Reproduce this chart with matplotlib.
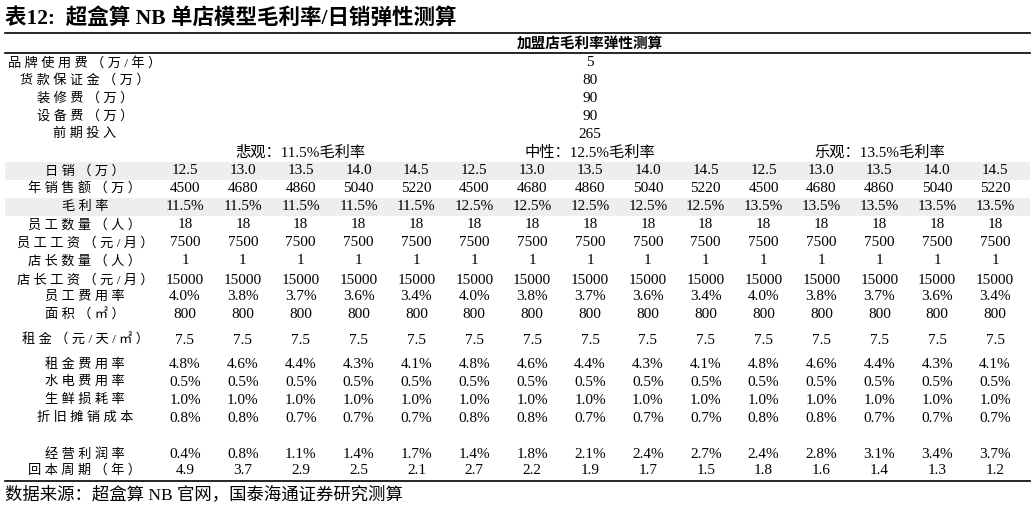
import matplotlib
matplotlib.use("Agg")
import matplotlib.pyplot as plt

FAM = ['Liberation Serif', 'Noto Sans CJK SC']

title = "表12:  超盒算 NB 单店模型毛利率/日销弹性测算"
header = "加盟店毛利率弹性测算"
source = "数据来源：超盒算 NB 官网，国泰海通证券研究测算"

upfront_labels = ["品牌使用费（万/年）", "货款保证金（万）", "装修费（万）", "设备费（万）", "前期投入"]
upfront_values = ["5", "80", "90", "90", "265"]

scenarios = ["悲观：11.5%毛利率", "中性：12.5%毛利率", "乐观：13.5%毛利率"]

row_labels = ["日销（万）", "年销售额（万）", "毛利率", "员工数量（人）", "员工工资（元/月）",
              "店长数量（人）", "店长工资（元/月）", "员工费用率", "面积（㎡）", "租金（元/天/㎡）",
              "租金费用率", "水电费用率", "生鲜损耗率", "折旧摊销成本", "经营利润率", "回本周期（年）"]

daily_sales = ["12.5", "13.0", "13.5", "14.0", "14.5"] * 3
annual_sales = ["4500", "4680", "4860", "5040", "5220"] * 3
gross_margin = ["11.5%"] * 5 + ["12.5%"] * 5 + ["13.5%"] * 5
staff_count = ["18"] * 15
staff_wage = ["7500"] * 15
manager_count = ["1"] * 15
manager_wage = ["15000"] * 15
staff_cost_rate = ["4.0%", "3.8%", "3.7%", "3.6%", "3.4%"] * 3
area = ["800"] * 15
rent = ["7.5"] * 15
rent_rate = ["4.8%", "4.6%", "4.4%", "4.3%", "4.1%"] * 3
utility_rate = ["0.5%"] * 15
fresh_loss = ["1.0%"] * 15
depreciation = ["0.8%", "0.8%", "0.7%", "0.7%", "0.7%"] * 3
op_margin = ["0.4%", "0.8%", "1.1%", "1.4%", "1.7%",
             "1.4%", "1.8%", "2.1%", "2.4%", "2.7%",
             "2.4%", "2.8%", "3.1%", "3.4%", "3.7%"]
payback = ["4.9", "3.7", "2.9", "2.5", "2.1",
           "2.7", "2.2", "1.9", "1.7", "1.5",
           "1.8", "1.6", "1.4", "1.3", "1.2"]

rows = [daily_sales, annual_sales, gross_margin, staff_count, staff_wage, manager_count,
        manager_wage, staff_cost_rate, area, rent, rent_rate, utility_rate, fresh_loss,
        depreciation, op_margin, payback]
row_y = [171, 189, 207, 225, 243, 261, 280, 297, 315, 340, 364, 382, 400, 418, 455, 470]
upfront_y = [63, 80, 98, 116, 134]
shaded = {0, 2}

def spaced(s):
    return " ".join(list(s))

fig = plt.figure(figsize=(10.32, 5.13), dpi=100)
ax = fig.add_axes([0, 0, 1, 1])
ax.set_xlim(0, 1032)
ax.set_ylim(513, 0)
ax.axis('off')

label_x = 85
col_x = [185 + i * 57.86 for i in range(15)]
mid_x = col_x[7]

ax.text(5, 18, title, fontsize=15.5, fontweight='bold', family=FAM, va='center', ha='left')
ax.plot([5, 1030], [33, 33], color='black', lw=1.2)
ax.text(mid_x, 44, header, fontsize=10.5, fontweight='bold', family=FAM, va='center', ha='center')
ax.plot([5, 1030], [53, 53], color='black', lw=1.2)

for lab, val, y in zip(upfront_labels, upfront_values, upfront_y):
    ax.text(label_x, y, spaced(lab), fontsize=9.5, family=FAM, va='center', ha='center')
    ax.text(mid_x, y, val, fontsize=11, family=FAM, va='center', ha='center')

for s, cx in zip(scenarios, [col_x[2], col_x[7], col_x[12]]):
    ax.text(cx, 153, s, fontsize=11, family=FAM, va='center', ha='center')

for i, (lab, vals, y) in enumerate(zip(row_labels, rows, row_y)):
    if i in shaded:
        ax.add_patch(plt.Rectangle((5, y - 9), 1025, 18, color='#eeeeee', zorder=0, lw=0))
    ax.text(label_x, y, spaced(lab), fontsize=9.5, family=FAM, va='center', ha='center')
    for x, v in zip(col_x, vals):
        ax.text(x, y, v, fontsize=11, family=FAM, va='center', ha='center')

ax.plot([5, 1030], [481, 481], color='black', lw=1.2)
ax.text(5, 495, source, fontsize=12.5, family=FAM, va='center', ha='left')

fig.savefig("out.png", dpi=100)
